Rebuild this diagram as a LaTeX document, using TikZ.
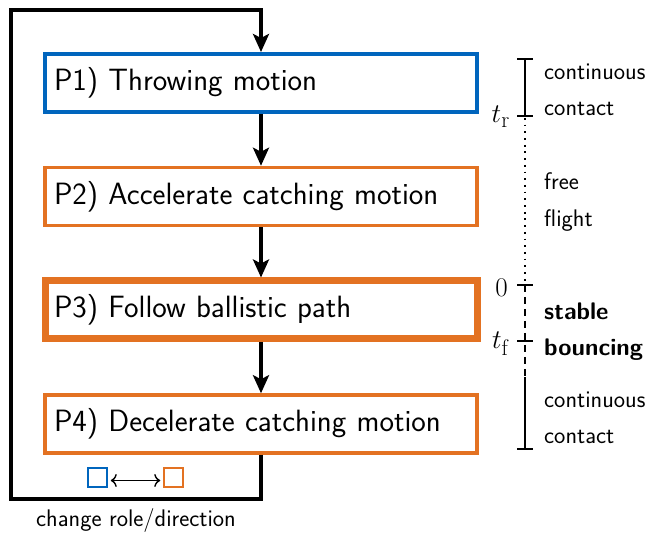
\documentclass[tikz,border=0pt]{standalone}
\usetikzlibrary{arrows.meta}
\definecolor{tumblue}{HTML}{0065BD}
\definecolor{tumorange}{HTML}{E37222}
\tikzset{
  phase/.style={draw=tumorange, rectangle, line width=3.5pt,
    minimum width=432pt, minimum height=58pt, text width=414pt,
    inner xsep=9pt, align=left,
    font=\fontsize{30.8}{36}\selectfont\sffamily},
  flow/.style={line width=4pt, -{Stealth[length=18pt,width=16pt,inset=4pt]}},
  loopline/.style={line width=4pt},
  note/.style={anchor=base west, inner sep=0pt,
    font=\fontsize{24}{28}\selectfont\sffamily},
  boldnote/.style={note, font=\fontsize{24}{28}\selectfont\sffamily\bfseries},
  mark label/.style={anchor=base east, inner sep=0pt,
    font=\fontsize{24.88}{30}\selectfont},
  scale line/.style={line width=2pt},
  role/.style={draw, rectangle, line width=1.5pt, minimum size=19pt, inner sep=0pt},
}
\newcommand{\marktext}[1]{\scalebox{1.085}{$#1$}}
\begin{document}
\begin{tikzpicture}[x=1pt, y=-1pt]
  \useasboundingbox (0,0) rectangle (646,534);

  % the four phases
  \node[phase, draw=tumblue, line width=4pt] (p1) at (261,83)  {P1) Throwing motion};
  \node[phase]                              (p2) at (261,196.5) {P2) Accelerate catching motion};
  \node[phase, line width=7pt]              (p3) at (261,310) {P3) Follow ballistic path};
  \node[phase]                              (p4) at (261,424) {P4) Decelerate catching motion};

  \draw[flow] (p1) -- (p2);
  \draw[flow] (p2) -- (p3);
  \draw[flow] (p3) -- (p4);

  % feedback loop back to the throwing phase
  \coordinate (lbr) at (261,499);
  \coordinate (lbl) at (11,499);
  \coordinate (ltl) at (11,10);
  \coordinate (ltr) at (261,10);
  \draw[loopline, -{Stealth[length=18pt,width=16pt,inset=4pt]}]
    (p4.south) -- (lbr) -- (lbl) -- (ltl) -- (ltr) -- (p1.north);

  % role swap icon
  \node[role, draw=tumblue]   (ra) at (97.5,477.5) {};
  \node[role, draw=tumorange] (rb) at (173.5,477.5) {};
  \draw[line width=1.4pt, {To[length=6pt,width=13pt]}-{To[length=6pt,width=13pt]}]
    ([xshift=3pt,yshift=-3pt]ra.east) -- ([xshift=-3pt,yshift=-3pt]rb.west);
  \node[anchor=base, inner sep=0pt, font=\fontsize{24}{28}\selectfont\sffamily]
    (cap) at (136,527) {change role/direction};

  % time scale
  \draw[scale line] (525,59) -- (525,116);
  \draw[scale line] (517,59) -- (533,59);
  \draw[scale line] (517,116) -- (533,116);
  \draw[scale line, dash pattern=on 1.8pt off 4.9pt] (525,118) -- (525,285);
  \draw[scale line, dash pattern=on 7pt off 5pt] (525,285) -- (525,377);
  \draw[scale line] (517,285) -- (533,285);
  \draw[scale line] (517,341) -- (533,341);
  \draw[scale line] (525,377) -- (525,449);
  \draw[scale line] (517,449) -- (533,449);

  \node[mark label] (tr) at (510,123) {\marktext{t_{\mathrm{r}}}};
  \node[mark label] (t0) at (508,297) {\marktext{0}};
  \node[mark label] (tf) at (510,349) {\marktext{t_{\mathrm{f}}}};

  \node[note] (c1a) at (544,80)  {continuous};
  \node[note] (c1b) at (544,116) {contact};
  \node[note] (ffa) at (544,190) {free};
  \node[note] (ffb) at (544,227) {flight};
  \node[boldnote] (sba) at (544,320) {stable};
  \node[boldnote] (sbb) at (544,356) {bouncing};
  \node[note] (c2a) at (544,408) {continuous};
  \node[note] (c2b) at (544,444) {contact};
\end{tikzpicture}
\end{document}
